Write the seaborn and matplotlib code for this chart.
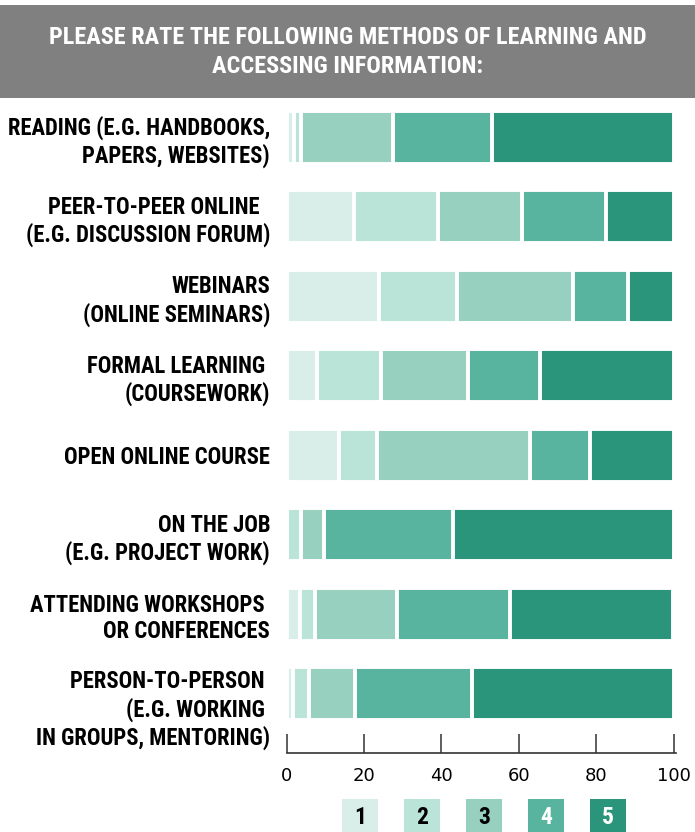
import matplotlib
matplotlib.use("Agg")
import matplotlib.pyplot as plt
import matplotlib.font_manager as fm
import matplotlib.transforms as mtransforms
from matplotlib.patches import Rectangle
import numpy as np
import pandas as pd
import seaborn as sns

# ---------------- data ----------------
title = "PLEASE RATE THE FOLLOWING METHODS OF LEARNING AND\nACCESSING INFORMATION:"
categories = [
    "READING (E.G. HANDBOOKS,\nPAPERS, WEBSITES)",
    "PEER-TO-PEER ONLINE  \n(E.G. DISCUSSION FORUM)",
    "WEBINARS\n(ONLINE SEMINARS)",
    "FORMAL LEARNING \n(COURSEWORK)",
    "OPEN ONLINE COURSE",
    "ON THE JOB\n(E.G. PROJECT WORK)",
    "ATTENDING WORKSHOPS \nOR CONFERENCES",
    "PERSON-TO-PERSON \n(E.G. WORKING \nIN GROUPS, MENTORING)",
]
rating_labels = ["1", "2", "3", "4", "5"]
rating_1 = [1.8, 17.5, 23.9, 7.9, 13.5, 0.0, 3.5, 1.7]
rating_2 = [2.0, 21.7, 20.1, 16.5, 9.9, 3.7, 3.9, 4.1]
rating_3 = [23.6, 21.6, 30.1, 22.4, 39.4, 5.9, 21.2, 11.9]
rating_4 = [25.6, 21.8, 14.1, 18.6, 15.7, 33.5, 29.1, 30.3]
rating_5 = [47.0, 17.4, 11.8, 34.6, 21.5, 56.9, 42.1, 52.0]
x_ticks = [0, 20, 40, 60, 80, 100]

colors = ["#D9EEE8", "#BBE4D8", "#98D0C0", "#58B49E", "#2A957A"]
legend_text_colors = ["black", "black", "black", "white", "white"]

# ---------------- fonts ----------------
sns.set_theme(style="white")
avail = {f.name for f in fm.fontManager.ttflist}
cond_family = None
for n in ["Roboto Condensed", "Liberation Sans Narrow", "Open Sans Condensed", "DejaVu Sans Condensed"]:
    if n in avail:
        cond_family = n
        break
if cond_family is not None:
    COND = dict(family=cond_family, weight="bold")
elif any(f.name == "DejaVu Sans" and f.stretch == "condensed" for f in fm.fontManager.ttflist):
    COND = dict(family="DejaVu Sans", stretch="condensed", weight="bold")
else:
    COND = dict(family="Roboto", weight="bold")
plt.rcParams["font.family"] = ["DejaVu Sans"]

# ---------------- figure ----------------
W, H = 695, 832
fig = plt.figure(figsize=(W / 100, H / 100), dpi=100)
fig.patch.set_facecolor("white")

# title banner
fig.patches.append(Rectangle((0, 1 - 98 / H), 1, 93 / H, transform=fig.transFigure,
                             facecolor="#808080", edgecolor="none", zorder=0))
fig.text(0.5, 1 - 52 / H, title, ha="center", va="center", color="white",
         fontsize=17.5, linespacing=1.32, **COND)

ax = fig.add_axes([286.7 / W, 1 - 753 / H, (676 - 286.7) / W, (753 - 97.8) / H])

df = pd.DataFrame({"category": categories,
                   "r1": rating_1, "r2": rating_2, "r3": rating_3,
                   "r4": rating_4, "r5": rating_5})
cols = ["r1", "r2", "r3", "r4", "r5"]
cum = df[cols].cumsum(axis=1)

for i in range(4, -1, -1):
    sns.barplot(x=cum[cols[i]], y=df["category"], orient="h", color=colors[i],
                saturation=1, width=0.667, edgecolor="white", linewidth=2.8,
                errorbar=None, ax=ax)

ax.set_xlim(0, 100.6)
ax.set_ylim(7.75, -0.5)
ax.set_xticks(x_ticks)
ax.set_xlabel("")
ax.set_ylabel("")
for s in ["top", "right", "left"]:
    ax.spines[s].set_visible(False)
ax.spines["bottom"].set_color("#333333")
ax.spines["bottom"].set_linewidth(1.2)
ax.tick_params(axis="x", bottom=True, direction="in", length=13.5, width=1.1,
               color="#333333", pad=10, labelsize=13, labelcolor="black")
ax.tick_params(axis="y", left=False, length=0, pad=12)
ylabels = ax.get_yticklabels()
for lab in ylabels:
    lab.set_fontsize(16.3)
    lab.set_fontfamily(COND["family"])
    lab.set_fontweight("bold")
    if "stretch" in COND:
        lab.set_fontstretch(COND["stretch"])
    lab.set_color("black")
# the three-line label sits slightly lower in the reference
shift = mtransforms.ScaledTranslation(0, -12 / 100, fig.dpi_scale_trans)
ylabels[-1].set_transform(ylabels[-1].get_transform() + shift)

# legend boxes with numbers inside
box_w = 36
for k, lab in enumerate(rating_labels):
    x0 = 342 + 62 * k
    fig.patches.append(Rectangle((x0 / W, 0), box_w / W, 33 / H, transform=fig.transFigure,
                                 facecolor=colors[k], edgecolor="none"))
    fig.text((x0 + box_w / 2) / W, 1 - 818 / H, lab, ha="center", va="center",
             color=legend_text_colors[k], fontsize=17, **COND)

fig.savefig("out.png", dpi=100, facecolor="white")
